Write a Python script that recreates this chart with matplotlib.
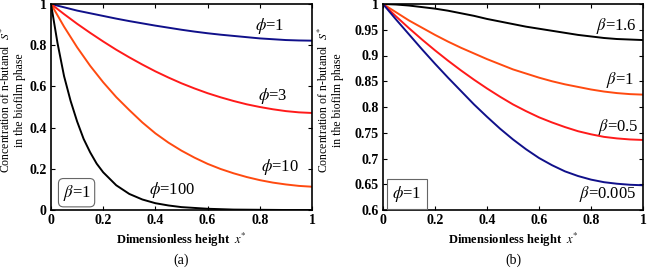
import numpy as np
import matplotlib
matplotlib.use("Agg")
import matplotlib.pyplot as plt

plt.rcParams.update({"font.family": ["Liberation Serif", "DejaVu Serif"],
                     "mathtext.fontset": "stix", "font.size": 9})

# ---- panel (a): beta = 1, varying phi
xa = [0, 0.05, 0.1, 0.15, 0.2, 0.25, 0.3, 0.35, 0.4, 0.45, 0.5,
      0.55, 0.6, 0.65, 0.7, 0.75, 0.8, 0.85, 0.9, 0.95, 1.0]
phi1 = [1.0, 0.984, 0.968, 0.955, 0.942, 0.929, 0.917, 0.906, 0.895, 0.885, 0.875,
        0.866, 0.858, 0.851, 0.845, 0.839, 0.833, 0.829, 0.825, 0.823, 0.822]
phi3 = [1.0, 0.951, 0.904, 0.860, 0.818, 0.778, 0.741, 0.706, 0.673, 0.643, 0.615,
        0.590, 0.567, 0.547, 0.529, 0.513, 0.500, 0.489, 0.480, 0.474, 0.471]
phi10 = [1.0, 0.890, 0.790, 0.700, 0.620, 0.548, 0.485, 0.425, 0.372, 0.327, 0.288,
         0.254, 0.224, 0.199, 0.178, 0.160, 0.145, 0.133, 0.124, 0.117, 0.113]
xk = [0, 0.025, 0.05, 0.075, 0.1, 0.125, 0.15, 0.175, 0.2, 0.25, 0.3, 0.35, 0.4, 0.45, 0.5, 0.6, 0.7, 0.8, 0.9, 1.0]
phi100 = [1.0, 0.81, 0.65, 0.53, 0.43, 0.345, 0.28, 0.225, 0.183, 0.12, 0.078, 0.051, 0.033, 0.022, 0.014, 0.006, 0.002, 0.001, 0.0, 0.0]

# ---- panel (b): phi = 1, varying beta
xb = xa
beta16 = [1.0, 0.999, 0.997, 0.994, 0.991, 0.987, 0.982, 0.977, 0.971, 0.966, 0.961,
          0.956, 0.952, 0.948, 0.944, 0.940, 0.937, 0.934, 0.932, 0.931, 0.930]
beta1 = [1.0, 0.984, 0.968, 0.954, 0.940, 0.927, 0.915, 0.904, 0.893, 0.883, 0.873,
         0.865, 0.857, 0.850, 0.844, 0.839, 0.834, 0.830, 0.827, 0.825, 0.824]
beta05 = [1.0, 0.976, 0.953, 0.931, 0.910, 0.890, 0.871, 0.853, 0.836, 0.820, 0.805,
          0.792, 0.780, 0.770, 0.761, 0.753, 0.747, 0.742, 0.739, 0.737, 0.736]
beta0005 = [1.0, 0.970, 0.941, 0.912, 0.884, 0.857, 0.831, 0.805, 0.781, 0.758, 0.737,
            0.718, 0.701, 0.687, 0.675, 0.666, 0.659, 0.654, 0.651, 0.649, 0.648]

BLUE, RED, ORANGE = "#10108a", "#ff1a1a", "#ff4a10"
YLAB = "Concentration of n-butanol  $S^{*}$\nin the biofilm phase"

fig = plt.figure(figsize=(6.47, 2.68), dpi=100)
axA = fig.add_axes([51 / 647, 1 - 210 / 268, 261 / 647, 206 / 268])
axB = fig.add_axes([383 / 647, 1 - 210 / 268, 260 / 647, 206 / 268])


def style(ax, yt, ylabs, ylim):
    ax.set_xlim(0, 1); ax.set_ylim(*ylim)
    ax.set_xticks([0, 0.2, 0.4, 0.6, 0.8, 1]); ax.set_xticklabels(["0", "0.2", "0.4", "0.6", "0.8", "1"])
    ax.set_yticks(yt); ax.set_yticklabels(ylabs)
    ax.tick_params(direction="in", top=True, right=True, length=3, width=0.8, labelsize=10, pad=3)
    for t in ax.get_xticklabels() + ax.get_yticklabels():
        t.set_fontweight("bold")
    for s in ax.spines.values():
        s.set_linewidth(1.2)
    ax.set_xlabel(r"Dimensionless height  $x^{*}$", fontsize=9, fontweight="bold", labelpad=3)
    ax.set_ylabel(YLAB, fontsize=8.5, linespacing=1.1)


kw = dict(fontsize=12, ha="center", va="center")

# A
axA.plot(xa, phi1, color=BLUE, lw=1.4)
axA.plot(xa, phi3, color=RED, lw=1.4)
axA.plot(xa, phi10, color=ORANGE, lw=1.4)
axA.plot(xk, phi100, color="black", lw=1.4)
style(axA, [0, 0.2, 0.4, 0.6, 0.8, 1], ["0", "0.2", "0.4", "0.6", "0.8", "1"], (0, 1))
axA.yaxis.set_label_coords(-0.095, 0.535)
axA.text(0.838, 0.893, r"$\phi$=1", **kw)
axA.text(0.85, 0.553, r"$\phi$=3", **kw)
axA.text(0.876, 0.21, r"$\phi$=10", **kw)
axA.text(0.462, 0.097, r"$\phi$=100", **kw)
axA.text(0.098, 0.084, r"$\beta$=1", fontsize=12, ha="center", va="center",
         bbox=dict(boxstyle="round,pad=0.25,rounding_size=0.3", fc="white", ec="0.4", lw=0.8))
fig.text((51 + 130) / 647, 1 - 260 / 268, "(a)", fontsize=10, ha="center", va="center")

# B
axB.plot(xb, beta16, color="black", lw=1.4)
axB.plot(xb, beta1, color=ORANGE, lw=1.4)
axB.plot(xb, beta05, color=RED, lw=1.4)
axB.plot(xb, beta0005, color=BLUE, lw=1.4)
yb = [0.6, 0.65, 0.7, 0.75, 0.8, 0.85, 0.9, 0.95, 1]
style(axB, yb, ["0.6", "0.65", "0.7", "0.75", "0.8", "0.85", "0.9", "0.95", "1"], (0.6, 1))
axB.yaxis.set_label_coords(-0.15, 0.535)
axB.text(0.897, 0.957, r"$\beta$=1.6", **kw)
axB.text(0.91, 0.852, r"$\beta$=1", **kw)
axB.text(0.904, 0.762, r"$\beta$=0.5", **kw)
axB.text(0.865, 0.631, r"$\beta$=0.005", **kw)
axB.text(0.092, 0.632, r"$\phi$=1", fontsize=12, ha="center", va="center",
         bbox=dict(boxstyle="square,pad=0.3", fc="white", ec="0.4", lw=0.8))
fig.text((383 + 130) / 647, 1 - 260 / 268, "(b)", fontsize=10, ha="center", va="center")

fig.savefig("out.png", dpi=100)
